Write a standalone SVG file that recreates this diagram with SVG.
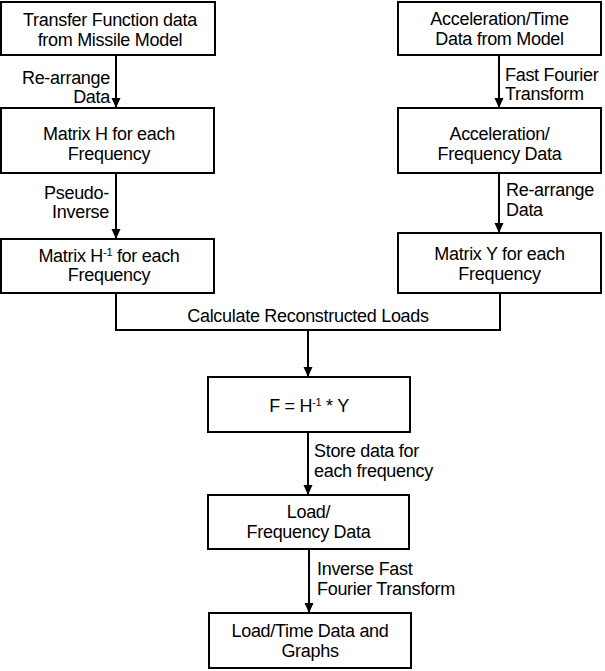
<svg xmlns="http://www.w3.org/2000/svg" width="605" height="671" viewBox="0 0 605 671">
<style>
.box{fill:#fff;stroke:#000;stroke-width:2}
.t{font-family:"Liberation Sans",Arial,sans-serif;font-size:18px;letter-spacing:-0.3px;fill:#000}
.c{text-anchor:middle}
.r{text-anchor:end}
.conn{fill:none;stroke:#000;stroke-width:2}
</style>
<defs>
<marker id="ah" markerUnits="userSpaceOnUse" markerWidth="10" markerHeight="10" refX="10" refY="5" orient="auto">
<path d="M0,0.5 L10,5 L0,9.5 z" fill="#000"/>
</marker>
</defs>
<rect width="605" height="671" fill="#fff"/>
<g id="connectors">
<line class="conn" x1="116" y1="55" x2="116" y2="108" marker-end="url(#ah)"/>
<line class="conn" x1="116" y1="173" x2="116" y2="239" marker-end="url(#ah)"/>
<line class="conn" x1="499" y1="55" x2="499" y2="108" marker-end="url(#ah)"/>
<line class="conn" x1="499" y1="173" x2="499" y2="233" marker-end="url(#ah)"/>
<polyline class="conn" points="116,293 116,330 500,330 500,293"/>
<line class="conn" x1="308" y1="330" x2="308" y2="377" marker-end="url(#ah)"/>
<line class="conn" x1="308" y1="432" x2="308" y2="495" marker-end="url(#ah)"/>
<line class="conn" x1="309" y1="549" x2="309" y2="613" marker-end="url(#ah)"/>
<text class="t r" x="110" y="84">Re-arrange</text>
<text class="t r" x="110" y="103">Data</text>
<text class="t r" x="109" y="199">Pseudo-</text>
<text class="t r" x="109" y="218">Inverse</text>
<text class="t" x="505" y="81">Fast Fourier</text>
<text class="t" x="505" y="100">Transform</text>
<text class="t" x="506" y="196">Re-arrange</text>
<text class="t" x="506" y="216">Data</text>
<text class="t c" x="308" y="322">Calculate Reconstructed Loads</text>
<text class="t" x="314" y="457">Store data for</text>
<text class="t" x="314" y="477">each frequency</text>
<text class="t" x="317" y="575">Inverse Fast</text>
<text class="t" x="317" y="595">Fourier Transform</text>
</g>
<g id="n1">
<rect class="box" x="1" y="2" width="214" height="53"/>
<text class="t c" x="110" y="26">Transfer Function data</text>
<text class="t c" x="110" y="46">from Missile Model</text>
</g>
<g id="n2">
<rect class="box" x="1" y="108" width="213" height="65"/>
<text class="t c" x="109" y="140">Matrix H for each</text>
<text class="t c" x="109" y="160">Frequency</text>
</g>
<g id="n3">
<rect class="box" x="1" y="239" width="213" height="54"/>
<text class="t c" x="109" y="262">Matrix H<tspan font-size="11" dy="-6">-1</tspan><tspan dy="6"> for each</tspan></text>
<text class="t c" x="109" y="281">Frequency</text>
</g>
<g id="n4">
<rect class="box" x="398" y="2" width="203" height="53"/>
<text class="t c" x="499.5" y="25">Acceleration/Time</text>
<text class="t c" x="499.5" y="45">Data from Model</text>
</g>
<g id="n5">
<rect class="box" x="398" y="108" width="203" height="65"/>
<text class="t c" x="499.5" y="140">Acceleration/</text>
<text class="t c" x="499.5" y="160">Frequency Data</text>
</g>
<g id="n6">
<rect class="box" x="398" y="233" width="203" height="60"/>
<text class="t c" x="499.5" y="260">Matrix Y for each</text>
<text class="t c" x="499.5" y="280">Frequency</text>
</g>
<g id="n7">
<rect class="box" x="208" y="377" width="202" height="55"/>
<text class="t c" x="309" y="412">F = H<tspan font-size="11" dy="-6">-1</tspan><tspan dy="6"> * Y</tspan></text>
</g>
<g id="n8">
<rect class="box" x="208" y="495" width="201" height="54"/>
<text class="t c" x="308.5" y="518">Load/</text>
<text class="t c" x="308.5" y="538">Frequency Data</text>
</g>
<g id="n9">
<rect class="box" x="209" y="613" width="202" height="55"/>
<text class="t c" x="310" y="637">Load/Time Data and</text>
<text class="t c" x="310" y="657">Graphs</text>
</g>
</svg>
